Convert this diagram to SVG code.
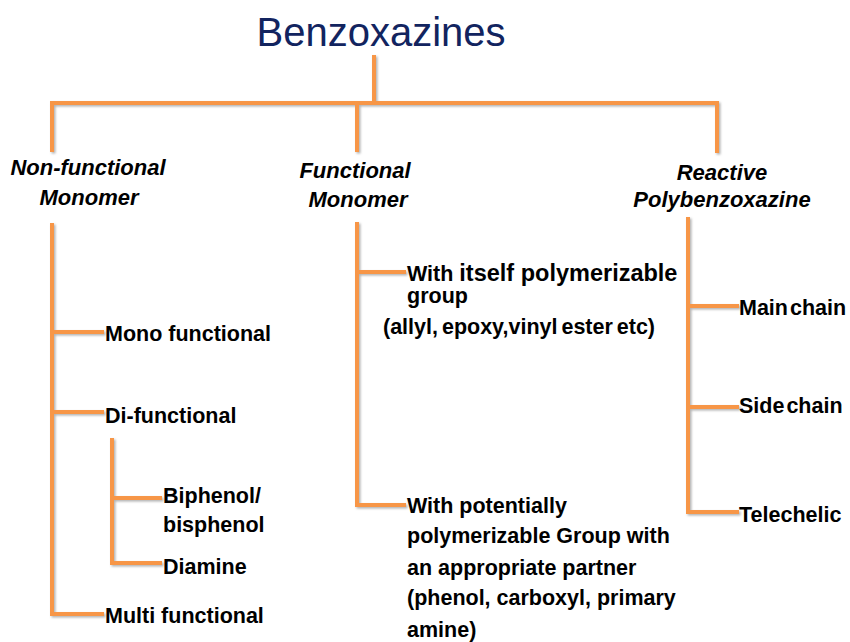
<svg xmlns="http://www.w3.org/2000/svg" width="850" height="642" viewBox="0 0 850 642">
<defs>
<filter id="sh" x="-10%" y="-10%" width="130%" height="130%">
<feDropShadow dx="1.5" dy="1.5" stdDeviation="1" flood-color="#000" flood-opacity="0.3"/>
</filter>
<style>
.ln{fill:none;stroke:#f79646;stroke-width:4;stroke-linejoin:miter;stroke-linecap:butt}
.t{font-family:"Liberation Sans",Arial,sans-serif;font-weight:bold;font-size:21.5px;fill:#000}
.h{font-family:"Liberation Sans",Arial,sans-serif;font-weight:bold;font-style:italic;font-size:22px;fill:#000;text-anchor:middle}
.title{font-family:"Liberation Sans",Arial,sans-serif;font-size:40px;fill:#12245f;text-anchor:middle}
.tight{word-spacing:-4px}
</style>
</defs>
<rect width="850" height="642" fill="#fff"/>
<g id="connectors" filter="url(#sh)">
<path class="ln" d="M374 55V103"/>
<path class="ln" d="M52 152V103H717V153"/>
<path class="ln" d="M357 103V152"/>
<path class="ln" d="M52 223V614H104"/>
<path class="ln" d="M52 332H104"/>
<path class="ln" d="M52 412H104"/>
<path class="ln" d="M112 438V563H162"/>
<path class="ln" d="M112 498H162"/>
<path class="ln" d="M357 222V505H406"/>
<path class="ln" d="M357 272H406"/>
<path class="ln" d="M688 217V512H739"/>
<path class="ln" d="M688 306H739"/>
<path class="ln" d="M688 407H739"/>
</g>
<g id="root"><text class="title" x="381" y="46">Benzoxazines</text></g>
<g id="nonfunctional"><text class="h" x="88" y="175">Non-functional</text><text class="h" x="89" y="205">Monomer</text></g>
<g id="functional"><text class="h" x="355" y="178">Functional</text><text class="h" x="358" y="207">Monomer</text></g>
<g id="reactive"><text class="h" x="722" y="180">Reactive</text><text class="h" x="722" y="207">Polybenzoxazine</text></g>
<g id="mono"><text class="t" x="105" y="341">Mono functional</text></g>
<g id="di"><text class="t" x="105" y="423">Di-functional</text></g>
<g id="biphenol"><text class="t" x="163" y="503">Biphenol/</text><text class="t" x="163" y="532">bisphenol</text></g>
<g id="diamine"><text class="t" x="163" y="574">Diamine</text></g>
<g id="multi"><text class="t" x="105" y="623">Multi functional</text></g>
<g id="itself"><text class="t" x="407" y="281">With <tspan font-size="23.5">itself polymerizable</tspan></text><text class="t" x="407" y="303" font-size="23.5">group</text><text class="t tight" x="383" y="334" style="word-spacing:-2px">(allyl, epoxy,vinyl ester etc)</text></g>
<g id="potential"><text class="t" x="407" y="513">With potentially</text><text class="t" x="407" y="543">polymerizable Group with</text><text class="t" x="407" y="575">an appropriate partner</text><text class="t" x="407" y="605">(phenol, carboxyl, primary</text><text class="t" x="407" y="637">amine)</text></g>
<g id="main"><text class="t tight" x="739" y="315">Main chain</text></g>
<g id="side"><text class="t tight" x="739" y="413">Side chain</text></g>
<g id="telechelic"><text class="t" x="739" y="522">Telechelic</text></g>
</svg>
